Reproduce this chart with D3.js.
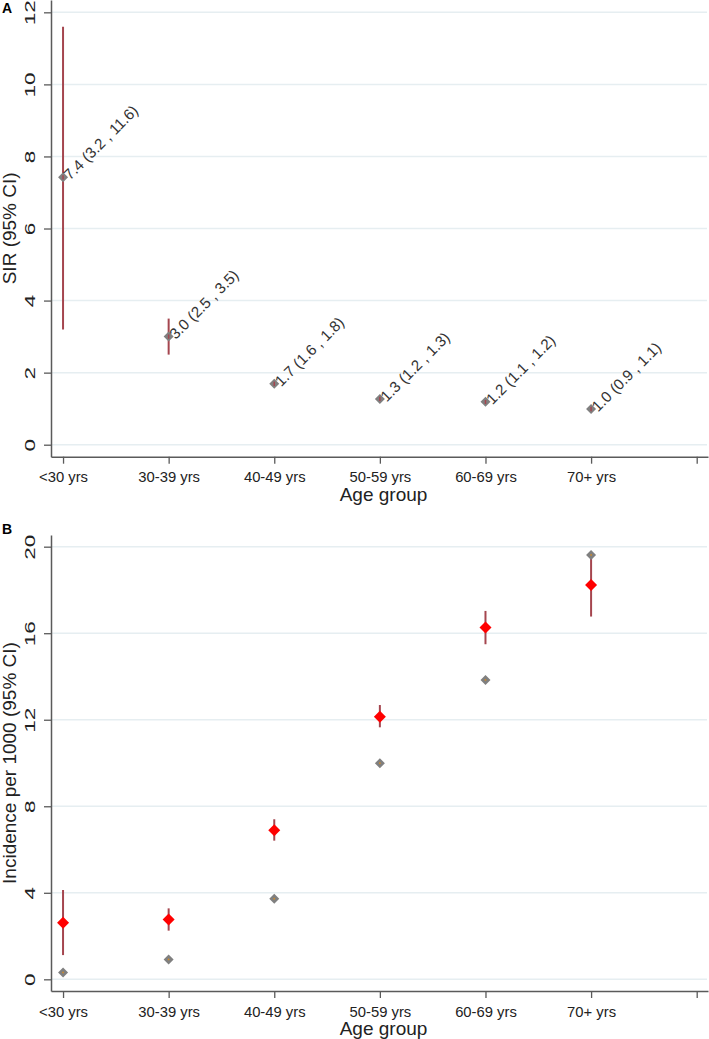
<!DOCTYPE html>
<html>
<head>
<meta charset="utf-8">
<script src="https://cdn.jsdelivr.net/npm/d3@7"></script>
<style>
  html, body { margin: 0; padding: 0; background: #fff; }
  svg { display: block; }
  text { font-family: "Liberation Sans", Arial, sans-serif; }
</style>
</head>
<body>
<svg id="chart" width="709" height="1039"></svg>
<script>
// ---------- data ----------
const categories = ["<30 yrs", "30-39 yrs", "40-49 yrs", "50-59 yrs", "60-69 yrs", "70+ yrs"];
const xTickValues = [1, 2, 3, 4, 5, 6, 7];

// Panel A: SIR (95% CI)
const sirValues = [7.42, 3.0, 1.69, 1.27, 1.19, 0.99];
const sirLower  = [3.2, 2.5, 1.6, 1.2, 1.1, 0.9];
const sirUpper  = [11.6, 3.5, 1.8, 1.33, 1.24, 1.1];
const sirLabels = ["7.4 (3.2 , 11.6)", "3.0 (2.5 , 3.5)", "1.7 (1.6 , 1.8)",
                   "1.3 (1.2 , 1.3)", "1.2 (1.1 , 1.2)", "1.0 (0.9 , 1.1)"];
const sirTicks  = [0, 2, 4, 6, 8, 10, 12];

// Panel B: Incidence per 1000 (95% CI)
const obsIncidence = [2.62, 2.77, 6.89, 12.14, 16.26, 18.23];
const obsLower     = [1.12, 2.25, 6.41, 11.65, 15.49, 16.77];
const obsUpper     = [4.13, 3.28, 7.40, 12.68, 17.03, 19.69];
const expIncidence = [0.32, 0.92, 3.73, 9.99, 13.84, 19.62];
const incTicks     = [0, 4, 8, 12, 16, 20];

// ---------- styles ----------
const axisColor = "#5a5a5a";
const gridColor = "#e6eef1";
const ciColor = "#a5464f";
const grayMarker = "#808080";
const redMarker = "#ff0000";
const textColor = "#222";

const svg = d3.select("#chart");

const diamond = (r) => `M0,${-r} L${r},0 L0,${r} L${-r},0 Z`;

function panel(opts) {
  const g = svg.append("g");
  const x = d3.scaleLinear().domain([0.886, 7.107]).range([51, 708]);
  const y = d3.scaleLinear().domain(opts.yDomain).range(opts.yRange);

  // grid lines
  g.append("g").selectAll("line").data(opts.ticks).join("line")
    .attr("x1", 51).attr("x2", 707)
    .attr("y1", d => y(d)).attr("y2", d => y(d))
    .attr("stroke", gridColor).attr("stroke-width", 1.5);

  // y axis
  const yAxis = g.append("g").attr("transform", "translate(51,0)")
    .call(d3.axisLeft(y).tickValues(opts.ticks).tickSize(7).tickSizeOuter(0).tickFormat(d3.format("d")));
  yAxis.select(".domain").attr("stroke", axisColor).attr("stroke-width", 1.5);
  yAxis.selectAll(".tick line").attr("stroke", axisColor).attr("stroke-width", 1.3);
  yAxis.selectAll(".tick text")
    .attr("x", null).attr("dy", null)
    .attr("text-anchor", "middle")
    .attr("transform", "translate(-16,0) rotate(-90) scale(1.5,1)")
    .attr("font-size", 15).attr("fill", textColor)
    .style("font-family", '"Liberation Sans", Arial, sans-serif');

  // x axis
  const xb = opts.yRange[0];
  const xAxis = g.append("g").attr("transform", `translate(0,${xb})`)
    .call(d3.axisBottom(x).tickValues(xTickValues).tickSize(7).tickSizeOuter(0)
      .tickFormat(d => categories[d - 1] || ""));
  xAxis.select(".domain").attr("stroke", axisColor).attr("stroke-width", 1.5);
  xAxis.selectAll(".tick line").attr("stroke", axisColor).attr("stroke-width", 1.3);
  xAxis.selectAll(".tick text")
    .attr("y", 25.6).attr("dy", null)
    .attr("font-size", 14.8).attr("fill", textColor)
    .style("font-family", '"Liberation Sans", Arial, sans-serif');

  // axis titles
  g.append("text")
    .attr("x", (51 + 708) / 2 + 4).attr("y", xb + 44)
    .attr("text-anchor", "middle").attr("font-size", 19).attr("fill", textColor)
    .text("Age group");
  const yc = (opts.yRange[0] + opts.yRange[1]) / 2;
  g.append("text")
    .attr("transform", `translate(16,${yc}) rotate(-90)`)
    .attr("text-anchor", "middle").attr("font-size", 19).attr("fill", textColor)
    .text(opts.yTitle);

  // panel letter
  g.append("text")
    .attr("x", 2).attr("y", opts.letterY)
    .attr("font-size", 14).attr("font-weight", "bold").attr("fill", "#000")
    .text(opts.letter);

  return { g, x, y };
}

// ---------- Panel A ----------
const A = panel({
  yDomain: [-0.333, 12.342], yRange: [456.7, 0], ticks: sirTicks,
  yTitle: "SIR (95% CI)", letter: "A", letterY: 12.5
});
A.g.append("g").selectAll("line").data(categories).join("line")
  .attr("x1", (d, i) => A.x(i + 1)).attr("x2", (d, i) => A.x(i + 1))
  .attr("y1", (d, i) => A.y(sirLower[i])).attr("y2", (d, i) => A.y(sirUpper[i]))
  .attr("stroke", ciColor).attr("stroke-width", 2);
A.g.append("g").selectAll("path").data(categories).join("path")
  .attr("d", diamond(5))
  .attr("transform", (d, i) => `translate(${A.x(i + 1)},${A.y(sirValues[i])})`)
  .attr("fill", grayMarker);
A.g.append("g").selectAll("line").data(categories).join("line")
  .attr("x1", (d, i) => A.x(i + 1)).attr("x2", (d, i) => A.x(i + 1))
  .attr("y1", (d, i) => A.y(Math.max(sirLower[i], sirValues[i] - 0.06)))
  .attr("y2", (d, i) => A.y(Math.min(sirUpper[i], sirValues[i] + 0.06)))
  .attr("stroke", ciColor).attr("stroke-width", 1.5);
A.g.append("g").selectAll("text").data(sirLabels).join("text")
  .attr("transform", (d, i) => `translate(${A.x(i + 1) + 7},${A.y(sirValues[i]) + 3.5}) rotate(-45)`)
  .attr("font-size", 15.2).attr("fill", "#333")
  .text(d => d);

// ---------- Panel B ----------
const B = panel({
  yDomain: [-0.54, 20.54], yRange: [991, 535], ticks: incTicks,
  yTitle: "Incidence per 1000 (95% CI)", letter: "B", letterY: 533.5
});
B.g.append("g").selectAll("line").data(categories).join("line")
  .attr("x1", (d, i) => B.x(i + 1)).attr("x2", (d, i) => B.x(i + 1))
  .attr("y1", (d, i) => B.y(obsLower[i])).attr("y2", (d, i) => B.y(obsUpper[i]))
  .attr("stroke", ciColor).attr("stroke-width", 2);
B.g.append("g").selectAll("path").data(categories).join("path")
  .attr("d", diamond(6))
  .attr("transform", (d, i) => `translate(${B.x(i + 1)},${B.y(obsIncidence[i])})`)
  .attr("fill", redMarker);
B.g.append("g").selectAll("path").data(categories).join("path")
  .attr("d", diamond(5))
  .attr("transform", (d, i) => `translate(${B.x(i + 1)},${B.y(expIncidence[i])})`)
  .attr("fill", grayMarker);
B.g.append("g").selectAll("circle").data(categories).join("circle")
  .attr("cx", (d, i) => B.x(i + 1)).attr("cy", (d, i) => B.y(expIncidence[i]))
  .attr("r", 0.9).attr("fill", "#d08a2a");
</script>
</body>
</html>
